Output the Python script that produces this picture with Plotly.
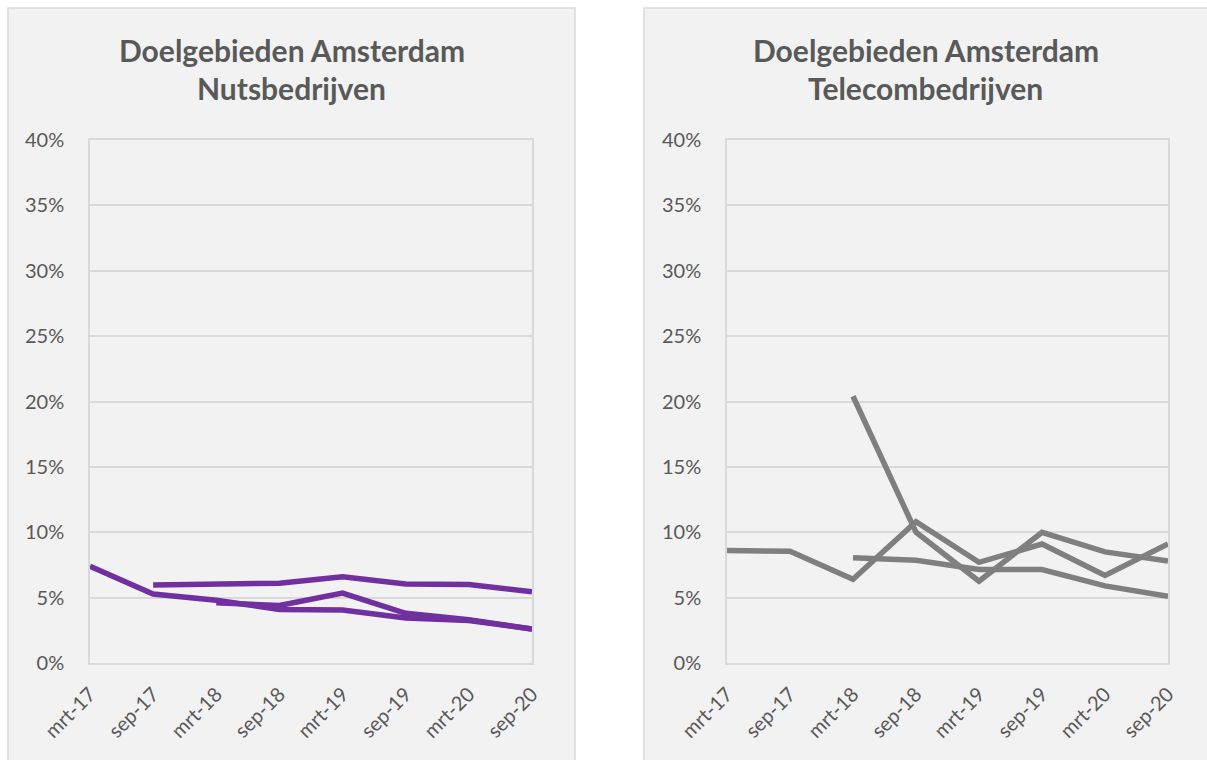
import plotly.graph_objects as go

W, H = 1207, 760

categories = ["mrt-17", "sep-17", "mrt-18", "sep-18", "mrt-19", "sep-19", "mrt-20", "sep-20"]

# Nutsbedrijven (purple)
nuts_a = [0.074, 0.0527, 0.048, 0.041, 0.0405, 0.0345, 0.0325, 0.026]
nuts_b = [None, 0.0597, 0.0603, 0.061, 0.066, 0.0605, 0.060, 0.0545]
nuts_c = [None, None, 0.046, 0.044, 0.0535, 0.038, 0.033, 0.026]

# Telecombedrijven (grey)
tel_a = [0.086, 0.0855, 0.064, 0.108, 0.077, 0.091, 0.067, 0.091]
tel_b = [None, None, 0.204, 0.100, 0.0625, 0.100, 0.085, 0.078]
tel_c = [None, None, 0.0805, 0.0785, 0.0715, 0.0715, 0.059, 0.051]

title_line1 = "Doelgebieden Amsterdam"
title_left = "Nutsbedrijven"
title_right = "Telecombedrijven"

PURPLE = "#7030A0"
GREY = "#7F7F7F"
TXT = "#595959"
GRID = "#D9D9D9"
FONT = "Lato"

def px(x):
    return x / W

def py(y):
    return 1 - y / H

xs = list(range(len(categories)))

fig = go.Figure()
for s in (nuts_a, nuts_b, nuts_c):
    fig.add_trace(go.Scatter(x=xs, y=s, mode="lines", line=dict(color=PURPLE, width=5.5),
                             xaxis="x", yaxis="y", showlegend=False, hoverinfo="skip"))
for s in (tel_a, tel_b, tel_c):
    fig.add_trace(go.Scatter(x=xs, y=s, mode="lines", line=dict(color=GREY, width=5.5),
                             xaxis="x2", yaxis="y2", showlegend=False, hoverinfo="skip"))

ydom = [py(663), py(140)]
xaxis_common = dict(
    range=[0, len(categories) - 1], tickmode="array", tickvals=xs, ticktext=categories,
    tickangle=-45, showgrid=False, zeroline=False, showline=True, mirror=True,
    linecolor=GRID, linewidth=1.5, ticks="", ticklabelstandoff=10, automargin=False,
    tickfont=dict(family=FONT, size=20, color=TXT), fixedrange=True,
)
yaxis_common = dict(
    range=[0, 0.4], dtick=0.05, tick0=0, tickformat=".0%", showgrid=True, gridcolor=GRID,
    gridwidth=1.5, zeroline=False, showline=True, mirror=True, linecolor=GRID, linewidth=1.5,
    ticks="", ticklabelstandoff=20, tickfont=dict(family=FONT, size=20, color=TXT),
    domain=ydom, fixedrange=True, automargin=False,
)

fig.update_layout(
    template="none",
    width=W, height=H, margin=dict(l=0, r=0, t=0, b=0, autoexpand=False),
    paper_bgcolor="white", plot_bgcolor="white",
    xaxis=dict(domain=[px(90), px(532)], anchor="y", **xaxis_common),
    yaxis=dict(anchor="x", **yaxis_common),
    xaxis2=dict(domain=[px(727), px(1168)], anchor="y2", **xaxis_common),
    yaxis2=dict(anchor="x2", **yaxis_common),
    shapes=[
        dict(type="rect", xref="paper", yref="paper", x0=px(8), x1=px(575), y0=py(775), y1=py(8),
             fillcolor="#F2F2F2", line=dict(color=GRID, width=1.5), layer="below"),
        dict(type="rect", xref="paper", yref="paper", x0=px(644), x1=px(1220), y0=py(775), y1=py(8),
             fillcolor="#F2F2F2", line=dict(color=GRID, width=1.5), layer="below"),
    ],
)

tfont = dict(family=FONT, size=30, color=TXT, weight="bold")
for cx, sub in ((291.5, title_left), (925.5, title_right)):
    fig.add_annotation(x=px(cx), y=py(50), xref="paper", yref="paper", text=title_line1,
                       showarrow=False, xanchor="center", yanchor="middle", font=tfont)
    fig.add_annotation(x=px(cx), y=py(88), xref="paper", yref="paper", text=sub,
                       showarrow=False, xanchor="center", yanchor="middle", font=tfont)

fig.write_html("out.html", config={"displayModeBar": False},
               post_script="document.body.style.margin='0px';document.body.style.overflow='hidden';")
